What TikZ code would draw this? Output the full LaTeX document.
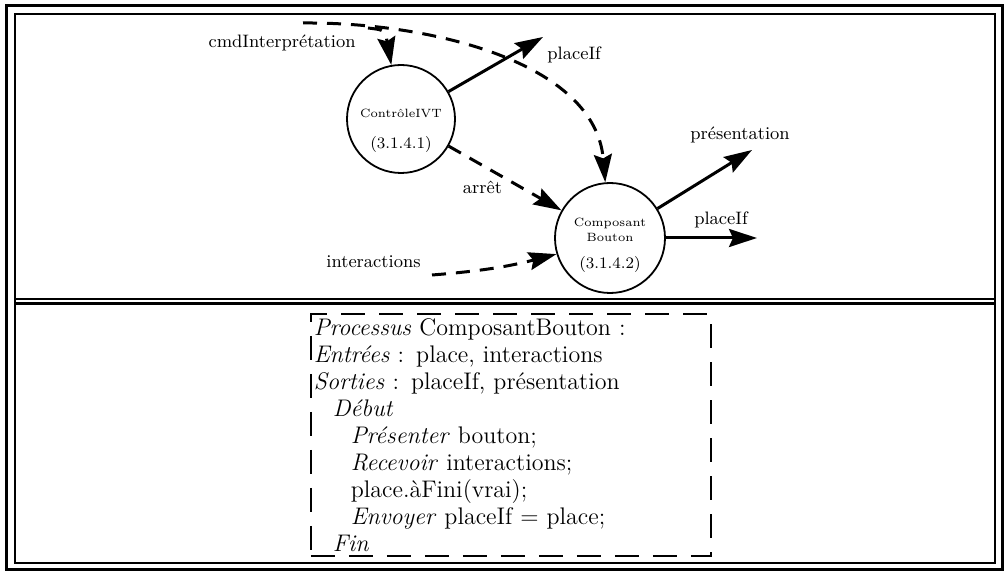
\documentclass[tikz,border=0pt]{standalone}
\usetikzlibrary{positioning, arrows.meta}

\begin{document}
\begin{tikzpicture}[x=0.5pt, y=-0.5pt, >={Stealth[length=14pt, width=9pt, inset=2pt]},
    proc/.style={circle, draw, line width=0.9pt, minimum size=#1, inner sep=0pt},
    flow/.style={->, line width=1.5pt},
    dflow/.style={->, line width=1.5pt, dash pattern=on 7pt off 5pt},
    lbl/.style={font=\small, inner sep=1pt},
    pname/.style={font=\fontsize{6}{7.5}\selectfont, align=center, inner sep=0pt},
    pnum/.style={font=\fontsize{8}{9}\selectfont, inner sep=0pt},
    algo/.style={draw, line width=0.8pt, dash pattern=on 12pt off 7pt, align=left,
      text width=197pt, minimum height=121pt, inner xsep=1.5pt, inner ysep=1pt,
      font=\fontsize{12}{13.5}\selectfont}]
  \useasboundingbox (0,0) rectangle (1006,572);

  % frame
  \draw[line width=1.5pt] (6,6) rectangle (1002,569);
  \draw[line width=0.6pt] (15,14) rectangle (995,563);
  \draw[line width=0.6pt] (15,299) -- (995,299);
  \draw[line width=1.5pt] (15,303) -- (995,303);

  % processes
  \node[proc=54pt] (ctrl) at (401,119) {};
  \node[pname] (ctrlname) at ([yshift=3pt]ctrl.center) {ContrôleIVT};
  \node[pnum] (ctrlnum) at ([yshift=-13pt]ctrl.center) {(3.1.4.1)};

  \node[proc=55pt] (comp) at (610,238) {};
  \node[pname] (compname) at ([yshift=4pt]comp.center) {Composant\\Bouton};
  \node[pnum] (compnum) at ([yshift=-13.5pt]comp.center) {(3.1.4.2)};

  % free ends
  \coordinate (cmdstart) at (303,23);
  \coordinate (cmdsplit) at (368,28);
  \coordinate (placeIfA) at (543,37);
  \coordinate (intstart) at (432,275);
  \coordinate (presA) at (752,150);
  \coordinate (placeIfB) at (757,238);

  % labels
  \node[lbl, anchor=east] (cmdlabel) at (358,43) {cmdInterprétation};
  \node[lbl, anchor=west] (placeIfAlabel) at (545,55) {placeIf};
  \node[lbl, anchor=east] (intlabel) at (423,262) {interactions};
  \node[lbl] (preslabel) at (740,135) {présentation};
  \node[lbl] (placeIfBlabel) at (721,220) {placeIf};

  % flows
  \draw[dflow] (cmdstart) .. controls (430,22) and (595,62) .. (comp);
  \draw[dflow] (cmdsplit) .. controls (385,30) .. (ctrl);
  \path (ctrl) edge[flow] (placeIfA)
        (ctrl) edge[dflow] node[lbl, pos=0.3, below=6pt] (arretlabel) {arrêt} (comp)
        (intstart) edge[dflow, bend right=5] (comp)
        (comp) edge[flow] (presA)
        (comp) edge[flow] (placeIfB);

  % specification
  \node[algo, anchor=north west] (spec) at (310,313) {%
    \textit{Processus} ComposantBouton :\\
    \textit{Entrées} : place, interactions\\
    \textit{Sorties} : placeIf, présentation\\
    \hspace*{9.5pt}\textit{Début}\\
    \hspace*{18.5pt}\textit{Présenter} bouton;\\
    \hspace*{18.5pt}\textit{Recevoir} interactions;\\
    \hspace*{18.5pt}place.àFini(vrai);\\
    \hspace*{18.5pt}\textit{Envoyer} placeIf = place;\\
    \hspace*{9.5pt}\textit{Fin}};
\end{tikzpicture}
\end{document}
